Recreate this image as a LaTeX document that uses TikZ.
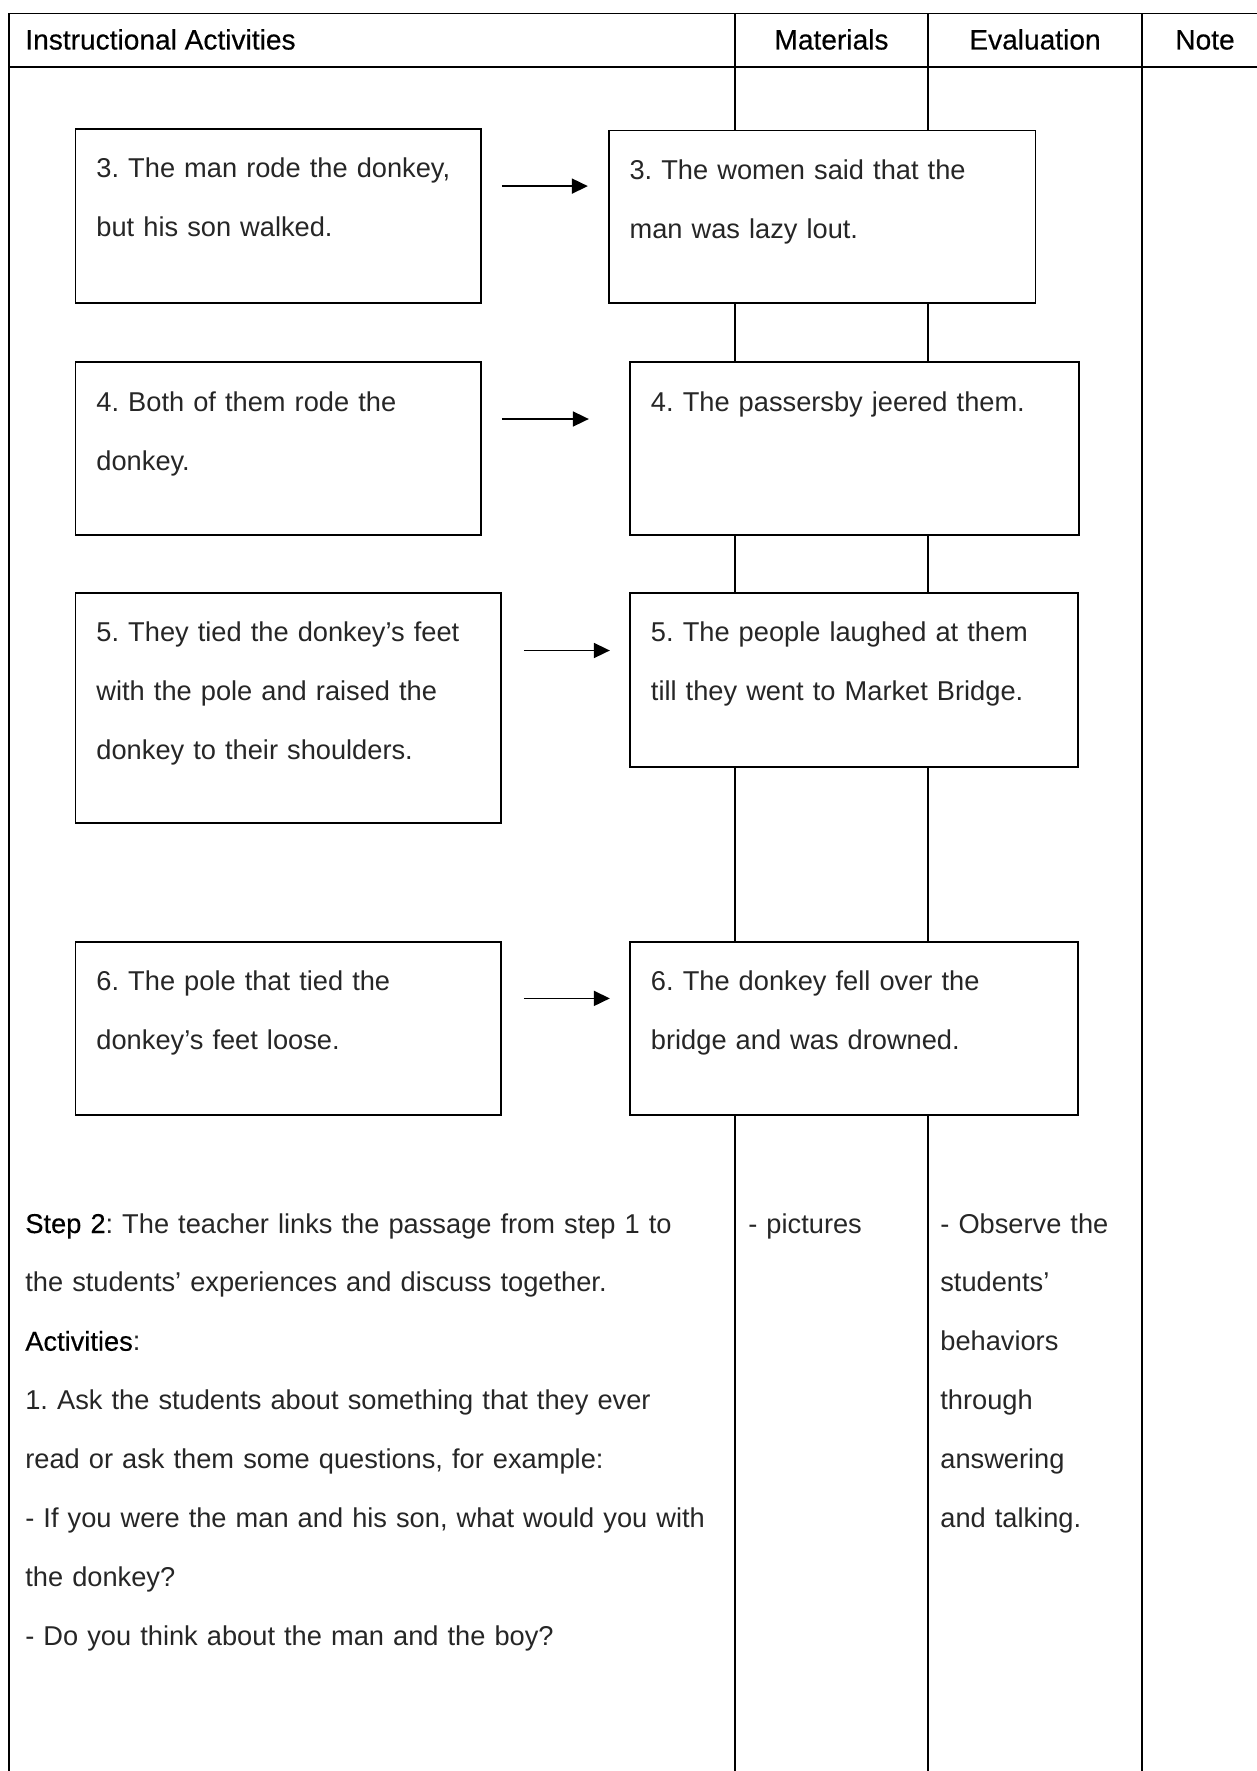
\documentclass[tikz,border=0pt]{standalone}
\usepackage{fontspec}
\setmainfont{Liberation Sans}
\newfontface\darkface{Liberation Sans}[FakeBold=0.4]
\usetikzlibrary{arrows.meta}
\newcommand\tablefont{\fontsize{15.5}{33.5}\selectfont\frenchspacing\hyphenpenalty=10000\relax}
\newcommand\headfont{\darkface\fontsize{16}{33.5}\selectfont}
\begin{document}
\begin{tikzpicture}[x=0.02cm, y=-0.02cm,
  rule/.style={line width=1.1pt},
  story/.style={draw, line width=1.1pt, fill=white, anchor=north west, align=left,
    inner xsep=0.42cm, inner ysep=0pt, text height=0.98cm, text=black!85,
    font=\tablefont},
  head/.style={anchor=base, inner sep=0pt, font=\headfont},
  body/.style={anchor=base west, align=left, inner sep=0pt, text=black!85,
    font=\tablefont},
  flow/.style={line width=1pt, -{Triangle[length=0.32cm, width=0.30cm]}}]
\useasboundingbox (0, 0) rectangle (1257, 1771);

\draw [rule] (1257, 13.5) -- (9, 13.5) -- (9, 1771);
\draw [rule] (9, 66.6) -- (1257, 66.6);
\draw [rule] (735, 13.5) -- (735, 1771);
\draw [rule] (928, 13.5) -- (928, 1771);
\draw [rule] (1142, 13.5) -- (1142, 1771);

\node [head, anchor=base west] (hact) at (25, 49.5) {Instructional Activities};
\node [head] (hmat) at (831.5, 49.5) {Materials};
\node [head] (heval) at (1035, 49.5) {Evaluation};
\node [head] (hnote) at (1205, 49.5) {Note};

\node [story, text width=7.27cm, text depth=2.50cm] (b3l) at (74.5, 127.6)
  {3. The man rode the donkey,\\but his son walked.};
\node [story, text width=7.70cm, text depth=2.48cm] (b3r) at (607.6, 129.5)
  {3. The women said that the\\man was lazy lout.};
\node [story, text width=7.27cm, text depth=2.48cm] (b4l) at (74.5, 361.4)
  {4. Both of them rode the\\donkey.};
\node [story, text width=8.15cm, text depth=2.48cm] (b4r) at (629, 361.4)
  {4. The passersby jeered them.};
\node [story, text width=7.68cm, text depth=3.63cm] (b5l) at (74.5, 591.8)
  {5. They tied the donkey’s feet\\with the pole and raised the\\donkey to their shoulders.};
\node [story, text width=8.13cm, text depth=2.50cm] (b5r) at (629, 591.8)
  {5. The people laughed at them\\till they went to Market Bridge.};
\node [story, text width=7.68cm, text depth=2.48cm] (b6l) at (74.5, 940.8)
  {6. The pole that tied the\\donkey’s feet loose.};
\node [story, text width=8.13cm, text depth=2.48cm] (b6r) at (629, 940.8)
  {6. The donkey fell over the\\bridge and was drowned.};

\draw [flow] ([shift={(20, 58.5)}]b3l.north east) -- ++(86, 0);
\draw [flow] ([shift={(20, 57.6)}]b4l.north east) -- ++(87, 0);
\draw [flow] ([shift={(21.5, 58.7)}]b5l.north east) -- ++(86, 0);
\draw [flow] ([shift={(21.5, 57.6)}]b6l.north east) -- ++(86, 0);

\node [body, text width=15cm] (step) at (25, 1233)
  {{\color{black}\darkface Step 2}: The teacher links the passage from step 1 to\\
   the students’ experiences and discuss together.\\
   {\color{black}\darkface Activities}:\\
   1. Ask the students about something that they ever\\
   read or ask them some questions, for example:\\
   - If you were the man and his son, what would you with\\
   the donkey?\\
   - Do you think about the man and the boy?};
\node [body, text width=3.4cm] (pics) at (748, 1233) {- pictures};
\node [body, text width=3.8cm] (obs) at (940, 1233)
  {- Observe the\\students’\\behaviors\\through\\answering\\and talking.};
\end{tikzpicture}
\end{document}
